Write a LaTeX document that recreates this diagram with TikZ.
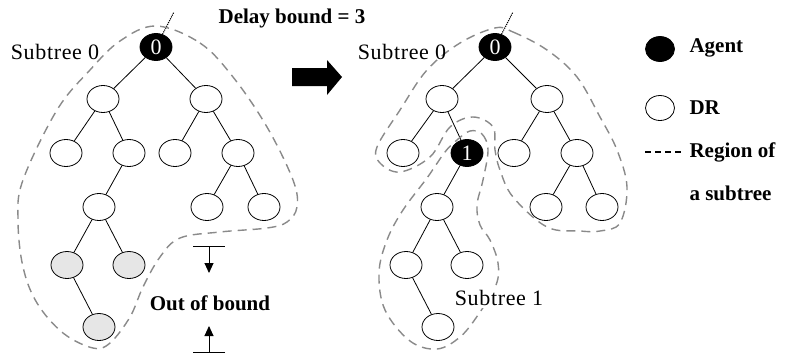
\documentclass[tikz,border=0pt]{standalone}
\usepackage{fontspec}
\setmainfont{Liberation Serif}
\newfontfamily\spaced[LetterSpace=3]{Liberation Serif}
\usepackage{xcolor}
\definecolor{Region}{HTML}{8A8A8A}
\definecolor{Shade}{HTML}{E6E6E6}
\usepackage{tikz}
\usetikzlibrary{arrows.meta,positioning,shapes.geometric}

\begin{document}
\begin{tikzpicture}[
  x=1pt,y=-1pt,on grid,
  font=\fontsize{21}{25}\selectfont,
  dr/.style={ellipse,draw,line width=.8pt,minimum width=32pt,minimum height=27pt,inner sep=0pt},
  agent/.style={dr,fill=black,text=white,font=\fontsize{22}{25}\selectfont},
  late/.style={dr,fill=Shade},
  link/.style={line width=.8pt},
  region/.style={draw=Region,dash pattern=on 9pt off 6pt,line width=1.4pt},
  bound/.style={{Bar[width=32pt]}-{Triangle[length=10pt,width=9pt]},line width=.9pt},
  subname/.style={font=\fontsize{22}{25}\spaced},
  keytext/.style={anchor=west,font=\fontsize{21}{25}\selectfont\bfseries}
]
\useasboundingbox (0,0) rectangle (790,356);

% tree before the split
\node[agent] (r0) at (156,47) {0};
\node[dr,below left=52pt and 53pt of r0] (a) {};
\node[dr,below right=52pt and 50pt of r0] (b) {};
\node[dr,below left=54pt and 37pt of a] (c) {};
\node[dr,below right=54pt and 26pt of a] (d) {};
\node[dr,below left=54pt and 31pt of b] (e) {};
\node[dr,below right=54pt and 32pt of b] (f) {};
\node[dr,below left=54pt and 30pt of d] (g) {};
\node[dr,below left=54pt and 31pt of f] (h) {};
\node[dr,below right=54pt and 26pt of f] (i) {};
\node[late,below left=58pt and 32pt of g] (j) {};
\node[late,below right=58pt and 30pt of g] (k) {};
\node[late,below right=62pt and 32pt of j] (l) {};
\draw[link] (r0) -- (a);
\draw[link] (r0) -- (b);
\draw[link] (a) -- (c);
\draw[link] (a) -- (d);
\draw[link] (b) -- (e);
\draw[link] (b) -- (f);
\draw[link] (d) -- (g);
\draw[link] (f) -- (h);
\draw[link] (f) -- (i);
\draw[link] (g) -- (j);
\draw[link] (g) -- (k);
\draw[link] (j) -- (l);
\coordinate (up0) at (174,12);
\draw[densely dotted,line width=1.1pt] (r0) -- (up0);
\draw[region] plot[smooth cycle,tension=.6] coordinates {(156,26) (200,43) (233,77)
  (267,127) (293,180) (297,207) (287,222) (267,228) (220,232) (180,238) (160,257)
  (143,287) (130,317) (110,343) (93,348) (63,333) (37,303) (23,267) (18,220) (23,180)
  (57,110) (90,70) (120,41)};
\node[subname] (sub0) at (55,52) {Subtree 0};

% delay bound marks
\node[font=\fontsize{21}{25}\selectfont\bfseries] (delay) at (292,18) {Delay bound = 3};
\node[font=\fontsize{21}{25}\selectfont\bfseries] (oob) at (210,303) {Out of bound};
\coordinate (hi) at (209,246);
\coordinate (hitip) at (209,273);
\coordinate (lo) at (209,353);
\coordinate (lotip) at (209,326);
\draw[bound] (hi) -- (hitip);
\draw[bound] (lo) -- (lotip);

% split arrow
\fill (292,68) -- (327,68) -- (327,60) -- (342,77) -- (327,95) -- (327,86) -- (292,86) -- cycle;

% tree after the split
\node[agent] (R0) at (495,47) {0};
\node[dr,below left=52pt and 53pt of R0] (A) {};
\node[dr,below right=52pt and 52pt of R0] (B) {};
\node[dr,below left=54pt and 39pt of A] (C) {};
\node[agent,below right=54pt and 25pt of A] (N1) {1};
\node[dr,below left=54pt and 33pt of B] (E) {};
\node[dr,below right=54pt and 30pt of B] (F) {};
\node[dr,below left=54pt and 30pt of N1] (G) {};
\node[dr,below left=54pt and 31pt of F] (H) {};
\node[dr,below right=54pt and 25pt of F] (I) {};
\node[dr,below left=58pt and 31pt of G] (J) {};
\node[dr,below right=58pt and 30pt of G] (K) {};
\node[dr,below right=62pt and 32pt of J] (L) {};
\draw[link] (R0) -- (A);
\draw[link] (R0) -- (B);
\draw[link] (A) -- (C);
\draw[link] (A) -- (N1);
\draw[link] (B) -- (E);
\draw[link] (B) -- (F);
\draw[link] (N1) -- (G);
\draw[link] (F) -- (H);
\draw[link] (F) -- (I);
\draw[link] (G) -- (J);
\draw[link] (G) -- (K);
\draw[link] (J) -- (L);
\coordinate (up1) at (513,12);
\draw[densely dotted,line width=1.1pt] (R0) -- (up1);
\draw[region] plot[smooth cycle,tension=.6] coordinates {(495,28) (513,32) (547,50)
  (577,77) (600,117) (617,150) (627,187) (620,223) (600,231) (580,231) (547,227)
  (513,197) (500,170) (495,150) (493,127) (473,117) (450,127) (430,157) (400,172)
  (380,163) (377,147) (400,110) (427,70) (460,43)};
\draw[region] plot[smooth cycle,tension=.6] coordinates {(470,131) (482,134) (488,150)
  (483,180) (477,205) (480,225) (490,240) (498,263) (496,285) (478,315) (460,337)
  (437,349) (410,341) (385,310) (379,273) (387,240) (403,210) (427,178) (445,152)
  (457,140)};
\node[subname] (sub0r) at (402,52) {Subtree 0};
\node[subname,fill=white,inner sep=2pt] (sub1) at (499,298) {Subtree 1};

% legend
\node[agent,minimum width=29pt,minimum height=25pt] (agentkey) at (660,49) {};
\node[dr,minimum width=29pt,minimum height=25pt] (drkey) at (660,108) {};
\node[keytext] (agenttxt) at (686,48) {Agent};
\node[keytext] (drtxt) at (686,108) {DR};
\draw[dash pattern=on 6pt off 4pt,line width=1.5pt] (645,152) -- (683,152);
\node[keytext] (regiontxt) at (686,152) {Region of};
\node[keytext] (subtxt) at (686,193) {a subtree};
\end{tikzpicture}
\end{document}
